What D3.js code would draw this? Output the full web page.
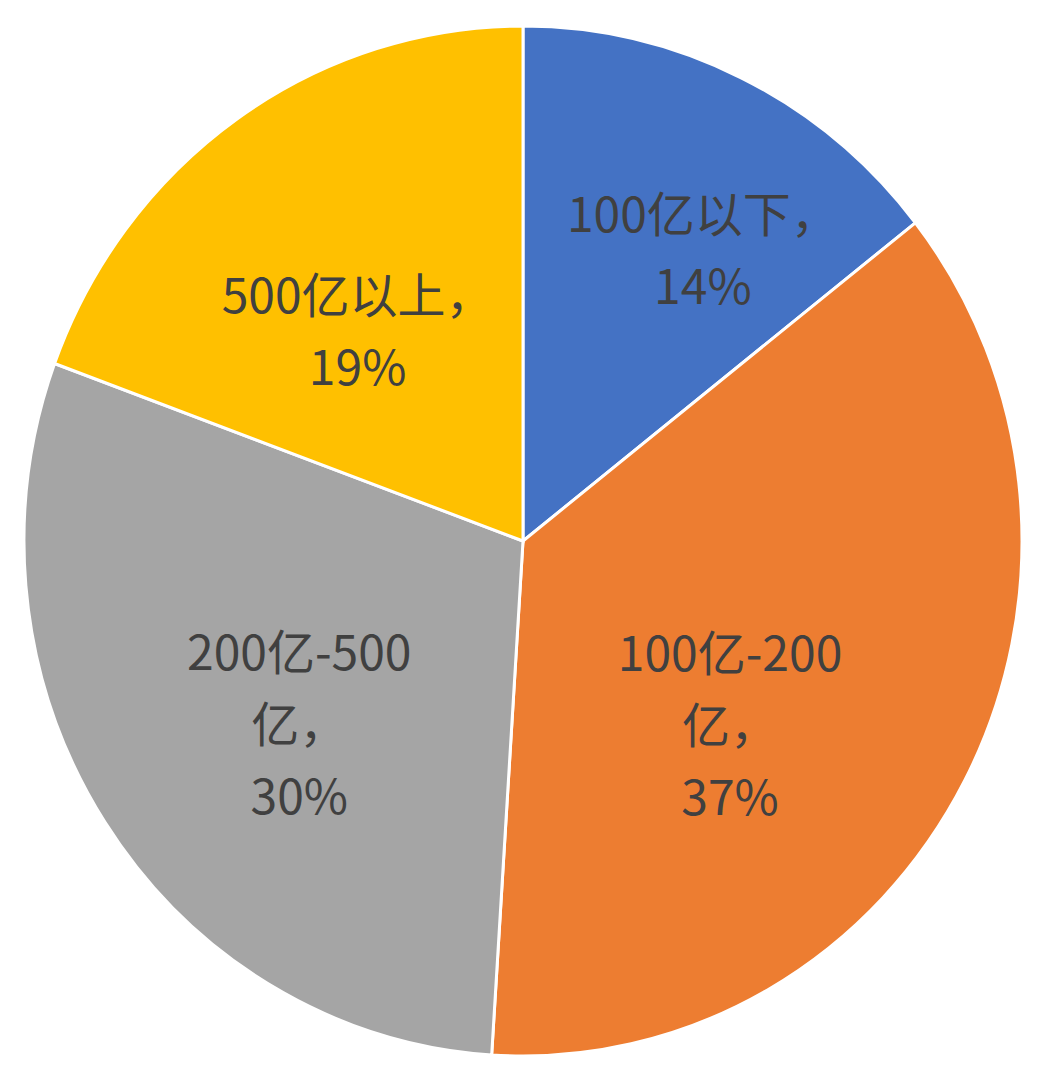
<!DOCTYPE html>
<meta charset="utf-8">
<head>
<style>
body { margin: 0; background: #fff; }
.label {
  font-family: "Noto Sans CJK SC", sans-serif;
  font-size: 48px;
  fill: #404040;
}
</style>
<script src="https://d3js.org/d3.v7.min.js"></script>
</head>
<body>
<div id="chart"></div>
<script>

var categories = ["100亿以下", "100亿-200亿", "200亿-500亿", "500亿以上"];
// slice sizes (labels show the rounded figures)
var shares = [14.4, 36.6, 29.6, 19.4];
var labelLines = [
  ["100亿以下，", "14%"],
  ["100亿-200", "亿，", "37%"],
  ["200亿-500", "亿，", "30%"],
  ["500亿以上，", "19%"]
];
var colors = ["#4472C4", "#ED7D31", "#A5A5A5", "#FFC000"];

var width = 1047, height = 1086,
  cx = 523, cy = 541,
  rx = 499, ry = 515;

// nudges off the arc centroid
var labelNudge = [[49, -16], [-58, 37], [27, 11], [6, 40]];
var lineHeight = 72;

var svg = d3.select("#chart").append("svg")
  .attr("width", width)
  .attr("height", height);

var data = categories.map(function(c, i) {
  return {name: c, value: shares[i], lines: labelLines[i], color: colors[i], i: i};
});

var pie = d3.pie()
  .sort(null)
  .value(function(d) { return d.value; });

var arcs = pie(data);

var arc = d3.arc().innerRadius(0).outerRadius(rx);
var labelArc = d3.arc().innerRadius(0.6 * rx).outerRadius(0.6 * rx);

var g = svg.append("g")
  .attr("transform", "translate(" + cx + "," + cy + ") scale(1," + (ry / rx) + ")");

g.selectAll("path")
  .data(arcs)
  .enter()
  .append("path")
    .attr("d", arc)
    .attr("fill", function(d) { return d.data.color; })
    .attr("stroke", "#fff")
    .attr("stroke-width", 3)
    .attr("vector-effect", "non-scaling-stroke");

var labels = svg.selectAll(".lab")
  .data(arcs)
  .enter()
  .append("text")
    .attr("class", "label")
    .attr("text-anchor", "middle")
    .attr("transform", function(d) {
      var c = labelArc.centroid(d);
      var n = labelNudge[d.data.i];
      return "translate(" + (cx + c[0] + n[0]) + "," + (cy + c[1] * ry / rx + n[1]) + ")";
    });

labels.selectAll("tspan")
  .data(function(d) { return d.data.lines.map(function(t, j) { return {t: t, j: j, n: d.data.lines.length}; }); })
  .enter()
  .append("tspan")
    .attr("x", 0)
    .attr("y", function(d) { return (d.j - (d.n - 1) / 2) * lineHeight; })
    .attr("dominant-baseline", "central")
    .text(function(d) { return d.t; });

</script>
</body>
